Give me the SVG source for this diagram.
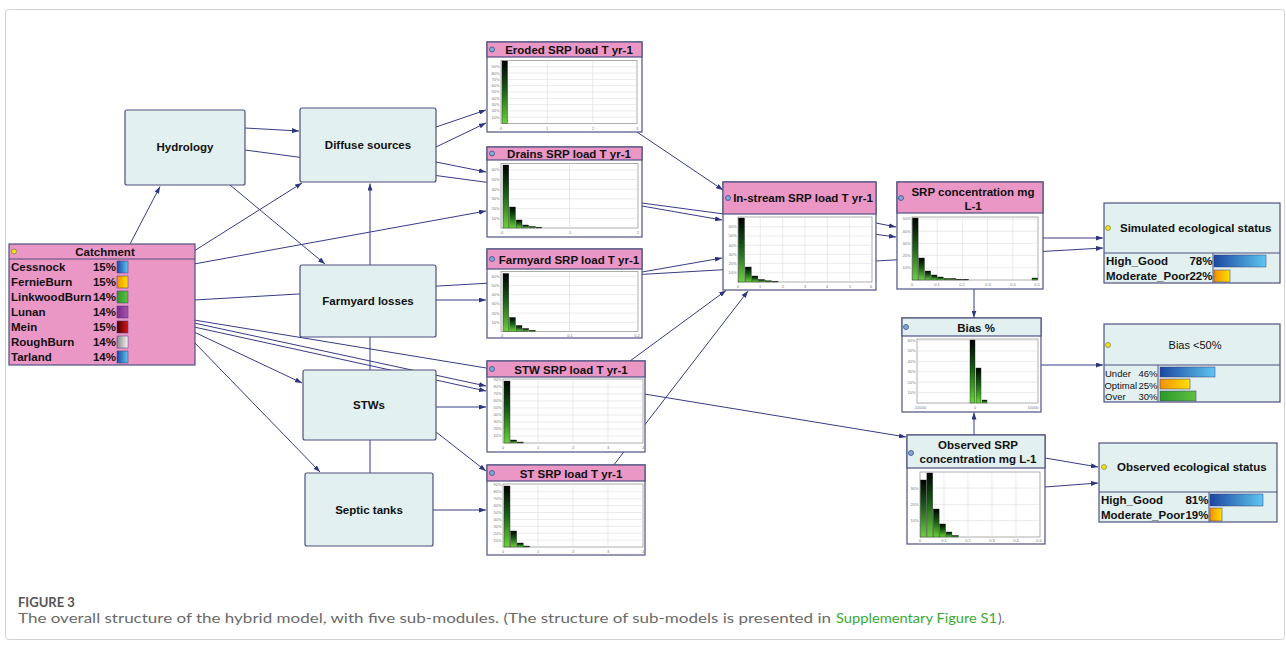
<svg xmlns="http://www.w3.org/2000/svg" width="1286" height="650" viewBox="0 0 1286 650">
<style>
.bx{fill:#fff;stroke:#4e5180;stroke-width:1.2}
.cy{fill:#e2f0f0;stroke:#4e5180;stroke-width:1.2}
.pk{fill:#eb97c6;stroke:#4e5180;stroke-width:1.2}
.t{font-family:"Liberation Sans",Arial,sans-serif;font-weight:bold;font-size:11.5px;fill:#111}
.tn{font-family:"Liberation Sans",Arial,sans-serif;font-size:9.5px;fill:#111}
.tk{font-family:"Liberation Sans",Arial,sans-serif;font-size:4px;fill:#777}
.m{text-anchor:middle}
.r{text-anchor:end}
.pl{fill:#fff;stroke:#9a9a9a;stroke-width:0.8}
.gr{stroke:#dcdcdc;stroke-width:0.6;fill:none}
.br{fill:url(#gb);stroke:#222;stroke-width:0.4}
.ic{fill:#86a8d8;stroke:#34508a;stroke-width:0.8}
.dt{fill:#f2e600;stroke:#666;stroke-width:0.6}
.e{fill:none;stroke:#363c86;stroke-width:1;marker-end:url(#ah)}
.dv{stroke:#4e5180;stroke-width:1}
.sb{stroke:#3a3a7a;stroke-width:0.5}
.cap{font-family:Lato,"Liberation Sans",sans-serif;font-size:13.5px;fill:#6a6a6a}
</style>
<defs>
<marker id="ah" markerWidth="7" markerHeight="5" viewBox="0 0 7 5" refX="7" refY="2.5" orient="auto" markerUnits="userSpaceOnUse"><path d="M0,0 L7,2.5 L0,5 z" fill="#2e3580"/></marker>
<linearGradient id="gb" x1="0" y1="0" x2="0" y2="1"><stop offset="0" stop-color="#000"/><stop offset="0.45" stop-color="#175c17"/><stop offset="1" stop-color="#6ad23a"/></linearGradient>
<linearGradient id="gBlue" x1="0" y1="0" x2="1" y2="0"><stop offset="0" stop-color="#1d47a0"/><stop offset="1" stop-color="#5ec6f0"/></linearGradient>
<linearGradient id="gOr" x1="0" y1="0" x2="1" y2="0"><stop offset="0" stop-color="#f39000"/><stop offset="1" stop-color="#ffe000"/></linearGradient>
<linearGradient id="gGr" x1="0" y1="0" x2="1" y2="0"><stop offset="0" stop-color="#2a9a2a"/><stop offset="1" stop-color="#60c040"/></linearGradient>
<linearGradient id="gPu" x1="0" y1="0" x2="1" y2="0"><stop offset="0" stop-color="#7a2a88"/><stop offset="1" stop-color="#a454ac"/></linearGradient>
<linearGradient id="gRd" x1="0" y1="0" x2="1" y2="0"><stop offset="0" stop-color="#4a0000"/><stop offset="1" stop-color="#d81818"/></linearGradient>
<linearGradient id="gGy" x1="0" y1="0" x2="1" y2="0"><stop offset="0" stop-color="#8a8a8a"/><stop offset="1" stop-color="#f4f4f4"/></linearGradient>
</defs>
<rect x="5.5" y="9.5" width="1279" height="630" rx="3" fill="#fff" stroke="#d2d2d2"/>

<g id="connectors">
<path class="e" d="M130 244L160 186.5"/>
<path class="e" d="M194 251L302 183"/>
<path class="e" d="M194 264L486 211"/>
<path class="e" d="M194 300L1103 248"/>
<path class="e" d="M194 320L906 437"/>
<path class="e" d="M194 323L486 386"/>
<path class="e" d="M194 327L486 391"/>
<path class="e" d="M194 332L302 383"/>
<path class="e" d="M194 342L320 472"/>
<path class="e" d="M245 128L299 131"/>
<path class="e" d="M245 150L896 237"/>
<path class="e" d="M230 185L325 264"/>
<path class="e" d="M436 127L486 110"/>
<path class="e" d="M436 147L486 123"/>
<path class="e" d="M436 162L486 172"/>
<path class="e" d="M370 473L370 183.5"/>
<path class="e" d="M436 300L486 300"/>
<path class="e" d="M436 407L486 407"/>
<path class="e" d="M436 432L486 471"/>
<path class="e" d="M433 510L486 510"/>
<path class="e" d="M637 132L723 190"/>
<path class="e" d="M642 206L722 220"/>
<path class="e" d="M642 272L722 258"/>
<path class="e" d="M630 361L726 290.5"/>
<path class="e" d="M613 466L748 291"/>
<path class="e" d="M876 223L896 227"/>
<path class="e" d="M1043 238L1103 238"/>
<path class="e" d="M974 289L974 317.5"/>
<path class="e" d="M974 435L974 412.5"/>
<path class="e" d="M1041 365L1103 365"/>
<path class="e" d="M1045 458L1098 467"/>
<path class="e" d="M1045 487L1098 483"/>
</g>

<g id="hydrology">
<rect class="cy" x="125" y="110" width="120" height="75" rx="2"/>
<text class="t m" x="185" y="151">Hydrology</text>
</g>
<g id="diffuse">
<rect class="cy" x="300" y="108" width="136" height="74" rx="2"/>
<text class="t m" x="368" y="149">Diffuse sources</text>
</g>
<g id="farmyard-losses">
<rect class="cy" x="300" y="265" width="136" height="72" rx="2"/>
<text class="t m" x="368" y="305">Farmyard losses</text>
</g>
<g id="stws">
<rect class="cy" x="303" y="370" width="133" height="70" rx="2"/>
<text class="t m" x="369" y="409">STWs</text>
</g>
<g id="septic">
<rect class="cy" x="305" y="473" width="128" height="73" rx="2"/>
<text class="t m" x="369" y="514">Septic tanks</text>
</g>

<g id="catchment">
<rect class="pk" x="9" y="244" width="186" height="121"/>
<line class="dv" x1="9" y1="259" x2="195" y2="259"/>
<circle class="dt" cx="14" cy="251.5" r="2.5"/>
<text class="t m" x="105" y="256">Catchment</text>
<text class="t" x="11" y="271">Cessnock</text><text class="t r" x="116" y="271">15%</text>
<text class="t" x="11" y="286">FernieBurn</text><text class="t r" x="116" y="286">15%</text>
<text class="t" x="11" y="301">LinkwoodBurn</text><text class="t r" x="116" y="301">14%</text>
<text class="t" x="11" y="316">Lunan</text><text class="t r" x="116" y="316">14%</text>
<text class="t" x="11" y="331">Mein</text><text class="t r" x="116" y="331">15%</text>
<text class="t" x="11" y="346">RoughBurn</text><text class="t r" x="116" y="346">14%</text>
<text class="t" x="11" y="361">Tarland</text><text class="t r" x="116" y="361">14%</text>
<rect class="sb" x="117" y="261" width="11" height="12" fill="url(#gBlue)"/>
<rect class="sb" x="117" y="276" width="11" height="12" fill="url(#gOr)"/>
<rect class="sb" x="117" y="291" width="11" height="12" fill="url(#gGr)"/>
<rect class="sb" x="117" y="306" width="11" height="12" fill="url(#gPu)"/>
<rect class="sb" x="117" y="321" width="11" height="12" fill="url(#gRd)"/>
<rect class="sb" x="117" y="336" width="11" height="12" fill="url(#gGy)"/>
<rect class="sb" x="117" y="351" width="11" height="12" fill="url(#gBlue)"/>
</g>

<g id="eroded">
<rect class="bx" x="487" y="42" width="155" height="90"/>
<rect class="pk" x="487" y="42" width="155" height="15"/>
<circle class="ic" cx="492" cy="49.5" r="2.5"/>
<text class="t m" x="569" y="54">Eroded SRP load T yr-1</text>
<rect class="pl" x="501" y="60.5" width="136" height="63"/>
<path class="gr" d="M501 117.2H637M501 110.9H637M501 104.6H637M501 98.3H637M501 92H637M501 85.7H637M501 79.4H637M501 73.1H637M501 66.8H637M547.3 60.5V123.5M592.7 60.5V123.5"/>
<rect class="br" x="502" y="61" width="5.5" height="62.5"/>
<text class="tk r" x="499.5" y="118.6">10%</text><text class="tk r" x="499.5" y="112.3">20%</text><text class="tk r" x="499.5" y="106">30%</text><text class="tk r" x="499.5" y="99.7">40%</text><text class="tk r" x="499.5" y="93.4">50%</text><text class="tk r" x="499.5" y="87.1">60%</text><text class="tk r" x="499.5" y="80.8">70%</text><text class="tk r" x="499.5" y="74.5">80%</text><text class="tk r" x="499.5" y="68.2">90%</text>
<text class="tk m" x="501" y="129.5">0</text><text class="tk m" x="547" y="129.5">1</text><text class="tk m" x="593" y="129.5">2</text><text class="tk m" x="637" y="129.5">3</text>
</g>

<g id="drains">
<rect class="bx" x="487" y="147" width="155" height="90"/>
<rect class="pk" x="487" y="147" width="155" height="13"/>
<circle class="ic" cx="492" cy="153.5" r="2.5"/>
<text class="t m" x="569" y="158">Drains SRP load T yr-1</text>
<rect class="pl" x="501" y="163.5" width="137" height="64.5"/>
<path class="gr" d="M501 218.3H638M501 208.6H638M501 198.9H638M501 189.2H638M501 179.5H638M501 169.8H638M569.5 163.5V228"/>
<rect class="br" x="503" y="165" width="5.8" height="63"/>
<rect class="br" x="509.6" y="207" width="5.8" height="21"/>
<rect class="br" x="516.2" y="220" width="5.8" height="8"/>
<rect class="br" x="522.8" y="225" width="5.8" height="3"/>
<rect class="br" x="529.4" y="226.5" width="5.8" height="1.5"/>
<rect class="br" x="536" y="227.2" width="5.8" height="0.8"/>
<text class="tk r" x="499.5" y="219.7">10%</text><text class="tk r" x="499.5" y="210">20%</text><text class="tk r" x="499.5" y="200.3">30%</text><text class="tk r" x="499.5" y="190.6">40%</text><text class="tk r" x="499.5" y="180.9">50%</text><text class="tk r" x="499.5" y="171.2">60%</text>
<text class="tk m" x="502" y="233.5">0</text><text class="tk m" x="570" y="233.5">1</text><text class="tk m" x="638" y="233.5">2</text>
</g>

<g id="farmyard-srp">
<rect class="bx" x="487" y="249" width="155" height="89"/>
<rect class="pk" x="487" y="249" width="155" height="20"/>
<circle class="ic" cx="492" cy="259" r="2.5"/>
<text class="t m" x="569" y="264">Farmyard SRP load T yr-1</text>
<rect class="pl" x="501" y="271.5" width="137" height="60"/>
<path class="gr" d="M501 322.3H638M501 313.1H638M501 303.9H638M501 294.7H638M501 285.5H638M501 276.3H638M569.5 271.5V331.5"/>
<rect class="br" x="503" y="273.5" width="5.8" height="58"/>
<rect class="br" x="509.6" y="317.5" width="5.8" height="14"/>
<rect class="br" x="516.2" y="325.5" width="5.8" height="6"/>
<rect class="br" x="522.8" y="328.5" width="5.8" height="3"/>
<rect class="br" x="529.4" y="330.3" width="5.8" height="1.2"/>
<text class="tk r" x="499.5" y="323.7">10%</text><text class="tk r" x="499.5" y="314.5">20%</text><text class="tk r" x="499.5" y="305.3">30%</text><text class="tk r" x="499.5" y="296.1">40%</text><text class="tk r" x="499.5" y="286.9">50%</text><text class="tk r" x="499.5" y="277.7">60%</text>
<text class="tk m" x="502" y="336.5">0</text><text class="tk m" x="570" y="336.5">0.1</text><text class="tk m" x="637" y="336.5">0.2</text>
</g>

<g id="stw-srp">
<rect class="bx" x="487" y="361" width="158" height="91"/>
<rect class="pk" x="487" y="361" width="158" height="16"/>
<circle class="ic" cx="492" cy="369" r="2.5"/>
<text class="t m" x="571" y="373.5">STW SRP load T yr-1</text>
<rect class="pl" x="503" y="379" width="140" height="64"/>
<path class="gr" d="M503 436H643M503 429H643M503 422H643M503 415H643M503 408H643M503 401H643M503 394H643M503 387H643M538 379V443M573 379V443M608 379V443"/>
<rect class="br" x="504" y="381" width="6" height="62"/>
<rect class="br" x="510.6" y="440" width="6" height="3"/>
<rect class="br" x="517.2" y="442" width="6" height="1"/>
<text class="tk r" x="501.5" y="437.4">10%</text><text class="tk r" x="501.5" y="430.4">20%</text><text class="tk r" x="501.5" y="423.4">30%</text><text class="tk r" x="501.5" y="416.4">40%</text><text class="tk r" x="501.5" y="409.4">50%</text><text class="tk r" x="501.5" y="402.4">60%</text><text class="tk r" x="501.5" y="395.4">70%</text><text class="tk r" x="501.5" y="388.4">80%</text><text class="tk r" x="501.5" y="381.4">90%</text>
<text class="tk m" x="503" y="449">0</text><text class="tk m" x="538" y="449">1</text><text class="tk m" x="573" y="449">2</text><text class="tk m" x="608" y="449">3</text><text class="tk m" x="643" y="449">4</text>
</g>

<g id="st-srp">
<rect class="bx" x="487" y="465" width="158" height="90"/>
<rect class="pk" x="487" y="465" width="158" height="16"/>
<circle class="ic" cx="492" cy="473" r="2.5"/>
<text class="t m" x="571" y="477.5">ST SRP load T yr-1</text>
<rect class="pl" x="503" y="484" width="140" height="63"/>
<path class="gr" d="M503 540.1H643M503 533.2H643M503 526.3H643M503 519.4H643M503 512.5H643M503 505.6H643M503 498.7H643M503 491.8H643M538 484V547M573 484V547M608 484V547"/>
<rect class="br" x="504" y="486" width="6" height="61"/>
<rect class="br" x="510.6" y="531" width="6" height="16"/>
<rect class="br" x="517.2" y="543" width="6" height="4"/>
<rect class="br" x="523.8" y="546" width="6" height="1"/>
<text class="tk r" x="501.5" y="541.5">10%</text><text class="tk r" x="501.5" y="534.6">20%</text><text class="tk r" x="501.5" y="527.7">30%</text><text class="tk r" x="501.5" y="520.8">40%</text><text class="tk r" x="501.5" y="513.9">50%</text><text class="tk r" x="501.5" y="507">60%</text><text class="tk r" x="501.5" y="500.1">70%</text><text class="tk r" x="501.5" y="493.2">80%</text><text class="tk r" x="501.5" y="486.3">90%</text>
<text class="tk m" x="503" y="552.5">0</text><text class="tk m" x="538" y="552.5">1</text><text class="tk m" x="573" y="552.5">2</text><text class="tk m" x="608" y="552.5">3</text><text class="tk m" x="643" y="552.5">4</text>
</g>

<g id="instream">
<rect class="bx" x="723" y="182" width="153" height="108"/>
<rect class="pk" x="723" y="182" width="153" height="32"/>
<circle class="ic" cx="728" cy="198" r="2.5"/>
<text class="t m" x="803" y="202">In-stream SRP load T yr-1</text>
<rect class="pl" x="738" y="217" width="134" height="65"/>
<path class="gr" d="M738 272.8H872M738 263.6H872M738 254.4H872M738 245.2H872M738 236H872M738 226.8H872M760.3 217V282M782.7 217V282M805 217V282M827.3 217V282M849.7 217V282"/>
<rect class="br" x="738.5" y="218" width="6" height="64"/>
<rect class="br" x="745.2" y="267" width="6" height="15"/>
<rect class="br" x="751.9" y="276" width="6" height="6"/>
<rect class="br" x="758.6" y="279.5" width="6" height="2.5"/>
<rect class="br" x="765.3" y="280.8" width="6" height="1.2"/>
<rect class="br" x="772" y="281.4" width="6" height="0.6"/>
<text class="tk r" x="736.5" y="274.2">10%</text><text class="tk r" x="736.5" y="265">20%</text><text class="tk r" x="736.5" y="255.8">30%</text><text class="tk r" x="736.5" y="246.6">40%</text><text class="tk r" x="736.5" y="237.4">50%</text><text class="tk r" x="736.5" y="228.2">60%</text>
<text class="tk m" x="738" y="287.5">0</text><text class="tk m" x="760" y="287.5">1</text><text class="tk m" x="783" y="287.5">2</text><text class="tk m" x="805" y="287.5">3</text><text class="tk m" x="827" y="287.5">4</text><text class="tk m" x="850" y="287.5">5</text><text class="tk m" x="871" y="287.5">6</text>
</g>

<g id="srp-conc">
<rect class="bx" x="897" y="182" width="146" height="107"/>
<rect class="pk" x="897" y="182" width="146" height="31"/>
<circle class="ic" cx="901" cy="198" r="2.5"/>
<text class="t m" x="973" y="196">SRP concentration mg</text>
<text class="t m" x="973" y="210">L-1</text>
<rect class="pl" x="912" y="217" width="126" height="63"/>
<path class="gr" d="M912 267.8H1038M912 255.6H1038M912 243.4H1038M912 231.2H1038M912 219H1038M937.2 217V280M962.4 217V280M987.6 217V280M1012.8 217V280"/>
<rect class="br" x="912.5" y="218" width="5.6" height="62"/>
<rect class="br" x="918.8" y="258" width="5.6" height="22"/>
<rect class="br" x="925.1" y="271" width="5.6" height="9"/>
<rect class="br" x="931.4" y="275" width="5.6" height="5"/>
<rect class="br" x="937.7" y="277" width="5.6" height="3"/>
<rect class="br" x="944" y="278.5" width="5.6" height="1.5"/>
<rect class="br" x="950.3" y="278.5" width="5.6" height="1.5"/>
<rect class="br" x="956.6" y="279.2" width="5.6" height="0.8"/>
<rect class="br" x="962.9" y="279.2" width="5.6" height="0.8"/>
<rect class="br" x="1032" y="278" width="5.6" height="2"/>
<text class="tk r" x="910.5" y="269.2">10%</text><text class="tk r" x="910.5" y="257">20%</text><text class="tk r" x="910.5" y="244.8">30%</text><text class="tk r" x="910.5" y="232.6">40%</text><text class="tk r" x="910.5" y="220.4">50%</text>
<text class="tk m" x="912" y="285.5">0</text><text class="tk m" x="937" y="285.5">0.1</text><text class="tk m" x="962" y="285.5">0.2</text><text class="tk m" x="988" y="285.5">0.3</text><text class="tk m" x="1013" y="285.5">0.4</text><text class="tk m" x="1037" y="285.5">0.5</text>
</g>

<g id="bias">
<rect class="bx" x="902" y="318" width="139" height="94"/>
<rect class="cy" x="902" y="318" width="139" height="18"/>
<circle class="ic" cx="906" cy="327" r="2.5"/>
<text class="t m" x="976" y="331.5">Bias %</text>
<rect class="pl" x="917" y="339" width="121" height="64"/>
<path class="gr" d="M917 392.6H1038M917 382.2H1038M917 371.8H1038M917 361.4H1038M917 351H1038M917 340.6H1038"/>
<rect class="br" x="970" y="340" width="5" height="63"/>
<rect class="br" x="976" y="368" width="5" height="35"/>
<rect class="br" x="982" y="400" width="5" height="3"/>
<text class="tk r" x="915.5" y="394">10%</text><text class="tk r" x="915.5" y="383.6">20%</text><text class="tk r" x="915.5" y="373.2">30%</text><text class="tk r" x="915.5" y="362.8">40%</text><text class="tk r" x="915.5" y="352.4">50%</text><text class="tk r" x="915.5" y="342">60%</text>
<text class="tk m" x="920" y="408.5">-10000</text><text class="tk m" x="975" y="408.5">0</text><text class="tk m" x="1033" y="408.5">10000</text>
</g>

<g id="observed-srp">
<rect class="bx" x="907" y="435" width="138" height="109"/>
<rect class="cy" x="907" y="435" width="138" height="33"/>
<circle class="ic" cx="911" cy="453" r="2.5"/>
<text class="t m" x="978" y="449">Observed SRP</text>
<text class="t m" x="978" y="463">concentration mg L-1</text>
<rect class="pl" x="920" y="472" width="120" height="65"/>
<path class="gr" d="M920 520.7H1040M920 504.4H1040M920 488.1H1040M944 472V537M968 472V537M992 472V537M1016 472V537"/>
<rect class="br" x="920.5" y="480" width="5.8" height="57"/>
<rect class="br" x="926.9" y="473" width="5.8" height="64"/>
<rect class="br" x="933.3" y="509" width="5.8" height="28"/>
<rect class="br" x="939.7" y="524" width="5.8" height="13"/>
<rect class="br" x="946.1" y="532" width="5.8" height="5"/>
<rect class="br" x="952.5" y="535.5" width="5.8" height="1.5"/>
<text class="tk r" x="918.5" y="522.1">10%</text><text class="tk r" x="918.5" y="505.8">20%</text><text class="tk r" x="918.5" y="489.5">30%</text>
<text class="tk m" x="920" y="542">0</text><text class="tk m" x="944" y="542">0.1</text><text class="tk m" x="968" y="542">0.2</text><text class="tk m" x="992" y="542">0.3</text><text class="tk m" x="1016" y="542">0.4</text><text class="tk m" x="1039" y="542">0.5</text>
</g>

<g id="sim-eco">
<rect class="cy" x="1104" y="203" width="176" height="80"/>
<line class="dv" x1="1104" y1="253" x2="1280" y2="253"/>
<line class="dv" x1="1213" y1="253" x2="1213" y2="283"/>
<circle class="dt" cx="1108" cy="228" r="2.5"/>
<text class="t" x="1120" y="232">Simulated ecological status</text>
<text class="t" x="1106" y="265">High_Good</text><text class="t r" x="1212.5" y="265">78%</text>
<text class="t" x="1106" y="280">Moderate_Poor</text><text class="t r" x="1212.5" y="280">22%</text>
<rect class="sb" x="1214" y="255" width="52" height="12" fill="url(#gBlue)"/>
<rect class="sb" x="1214" y="270" width="16" height="12" fill="url(#gOr)"/>
</g>

<g id="bias-class">
<rect class="cy" x="1104" y="324" width="176" height="78"/>
<line class="dv" x1="1104" y1="365" x2="1280" y2="365"/>
<line class="dv" x1="1158" y1="365" x2="1158" y2="402"/>
<circle class="dt" cx="1108" cy="345" r="2.5"/>
<text class="tn m" x="1195" y="349" style="font-size:11px">Bias &lt;50%</text>
<text class="tn" x="1105" y="377">Under</text><text class="tn r" x="1157.5" y="377">46%</text>
<text class="tn" x="1104.5" y="389" textLength="32.5" lengthAdjust="spacingAndGlyphs">Optimal</text><text class="tn r" x="1157.5" y="389">25%</text>
<text class="tn" x="1105" y="400">Over</text><text class="tn r" x="1157.5" y="400">30%</text>
<rect class="sb" x="1160" y="367" width="55" height="10" fill="url(#gBlue)"/>
<rect class="sb" x="1160" y="379" width="30" height="10" fill="url(#gOr)"/>
<rect class="sb" x="1160" y="391" width="36" height="10" fill="url(#gGr)"/>
</g>

<g id="obs-eco">
<rect class="cy" x="1099" y="443" width="178" height="79"/>
<line class="dv" x1="1099" y1="492" x2="1277" y2="492"/>
<line class="dv" x1="1209" y1="492" x2="1209" y2="522"/>
<circle class="dt" cx="1104" cy="467" r="2.5"/>
<text class="t" x="1117" y="471">Observed ecological status</text>
<text class="t" x="1101" y="504">High_Good</text><text class="t r" x="1208.5" y="504">81%</text>
<text class="t" x="1101" y="519">Moderate_Poor</text><text class="t r" x="1208.5" y="519">19%</text>
<rect class="sb" x="1210" y="494" width="53" height="12" fill="url(#gBlue)"/>
<rect class="sb" x="1210" y="508" width="12" height="13" fill="url(#gOr)"/>
</g>

<text class="cap" x="18" y="607" style="font-weight:bold;fill:#555;font-size:13px">FIGURE 3</text>
<text class="cap" x="18" y="623" textLength="813" lengthAdjust="spacingAndGlyphs">The overall structure of the hybrid model, with five sub-modules. (The structure of sub-models is presented in</text>
<text class="cap" x="836" y="623" style="fill:#3aaa35" textLength="161" lengthAdjust="spacingAndGlyphs">Supplementary Figure S1</text>
<text class="cap" x="998" y="623">).</text>
</svg>
